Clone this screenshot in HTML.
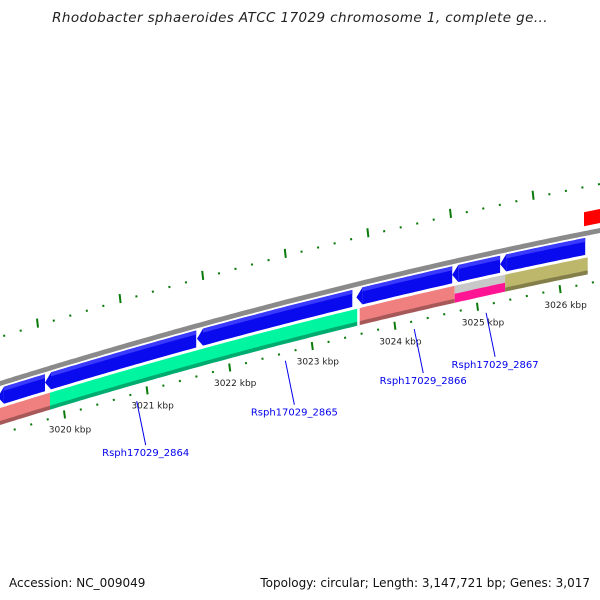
<!DOCTYPE html>
<html><head><meta charset="utf-8"><style>
body{margin:0;background:#fff}
svg{display:block;font-family:"DejaVu Sans","Liberation Sans",sans-serif}
</style></head><body>
<svg id="map" width="600" height="600" viewBox="0 0 600 600">
<text x="300" y="22" text-anchor="middle" font-size="13.5" letter-spacing="0.4" font-style="italic" fill="#222">Rhodobacter sphaeroides ATCC 17029 chromosome 1, complete ge...</text>
<text x="9" y="587" font-size="12" fill="#111">Accession: NC_009049</text>
<text x="590" y="587" font-size="12" fill="#111" text-anchor="end">Topology: circular; Length: 3,147,721 bp; Genes: 3,017</text>
<g id="layer"></g>
</svg>
<script>
// data (kbp)
const fwdStarts=[3019.20,3019.77,3021.61,3023.54,3024.70,3025.28];
const fwdEnds=[3019.77,3021.60,3023.49,3024.70,3025.28,3026.31];
const featStarts=[3019.20,3019.83,3023.58,3024.73,3025.34];
const featEnds=[3019.83,3023.55,3024.73,3025.34,3026.34];
const featColors=['#f08080','#00f5a0','#f08080','split','#bdb76b'];
const geneNames=['Rsph17029_2864','Rsph17029_2865','Rsph17029_2866','Rsph17029_2867'];
const genePos=[3020.88,3022.68,3024.24,3025.11];
const tickLabels=[3020,3021,3022,3023,3024,3025,3026];

const NS='http://www.w3.org/2000/svg';
const g=document.getElementById('layer');
function kx(k){return 64+(k-3020)*82.6;}
function by(x){return 383-0.3117*x+9.44e-5*x*x;}
function el(t,a){const e=document.createElementNS(NS,t);for(const k in a)e.setAttribute(k,a[k]);g.appendChild(e);return e;}
function band(x0,x1,o0,o1){let p=[];for(let x=x0;x<=x1;x+=4)p.push([x,by(x)+o0]);p.push([x1,by(x1)+o0]);let q=[];for(let x=x1;x>=x0;x-=4)q.push([x,by(x)+o1]);q.push([x0,by(x0)+o1]);return p.concat(q).map(v=>v[0].toFixed(1)+','+v[1].toFixed(1)).join(' ');}

// backbone
let gp=el('polygon',{points:band(-5,605,-2,3),fill:'#8a8a8a'});


// ticks
for(let i=0;i<=45;i++){const k=3018.8+i*0.2;const major=Math.abs(k-Math.round(k))<0.01;
 const x=kx(k);const y=by(x);
 let t=el('line',{x1:x,y1:y+(major?47:50),x2:x+(major?1:0.5),y2:y+(major?55:52),stroke:'#0a7a0a','stroke-width':2});
 
 const xu=x-27;const yu=by(xu);
 let u=el('line',{x1:xu,y1:yu-(major?53:47),x2:xu+(major?1:0.5),y2:yu-(major?44:45),stroke:'#0a7a0a','stroke-width':2});
 }
tickLabels.forEach(k=>{const x=kx(k)+6;let t=el('text',{x:x,y:by(x)+71,'font-size':9,'text-anchor':'middle',fill:'#222'});t.textContent=k+' kbp';
 });

// forward genes (blue arrows pointing left)
fwdStarts.forEach((s,i)=>{const x0=kx(s),x1=kx(fwdEnds[i]);
 let p=el('polygon',{points:band(x0+6,x1,5,22),fill:'#0a0aee'});
 
 let tip=el('polygon',{points:`${x0+6},${by(x0+6)+5} ${x0},${by(x0)+13.5} ${x0+6},${by(x0+6)+22}`,fill:'#0a0aee'});
 
 let h=el('polygon',{points:band(x0+6,x1,5,9),fill:'#3a3aff'});
 });

// features
featStarts.forEach((s,i)=>{const x0=kx(s),x1=kx(featEnds[i]);const c=featColors[i];
 if(c==='split'){let a=el('polygon',{points:band(x0,x1,25,33),fill:'#c8c8c8'});
  let b=el('polygon',{points:band(x0,x1,33,42),fill:'#ff1493'});}
 else{let a=el('polygon',{points:band(x0,x1,25,42),fill:c});
  let d=el('polygon',{points:band(x0,x1,38,42),fill:'#000','fill-opacity':0.3});}});

// red feature
let r=el('polygon',{points:band(584,605,-21,-7),fill:'#ff0000'});

// gene labels
geneNames.forEach((n,i)=>{const x=kx(genePos[i]);const y=by(x);
 let l=el('line',{x1:x,y1:y+59,x2:x+9,y2:y+103,stroke:'#0000ee','stroke-width':1});
 let t=el('text',{x:x+9,y:y+114,'font-size':10,'text-anchor':'middle',fill:'#0000ee'});t.textContent=n;
 });
</script>
</body></html>
